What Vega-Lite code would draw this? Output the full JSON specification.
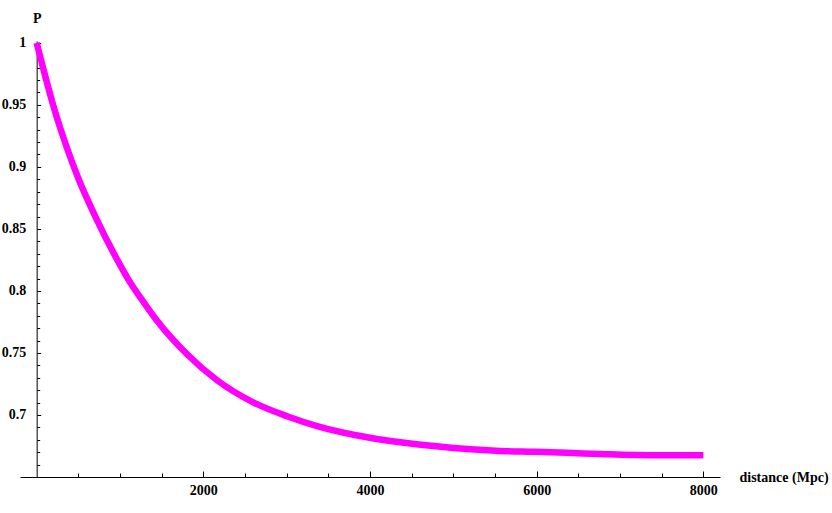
{
  "$schema": "https://vega.github.io/schema/vega-lite/v6.json",
  "autosize": {"type": "none"},
  "padding": {"left": 20, "top": 41, "right": 112, "bottom": 36},
  "width": 700,
  "height": 436,
  "background": "white",
  "config": {
    "view": {"stroke": null},
    "axis": {
      "grid": false,
      "domainColor": "black",
      "domainWidth": 1,
      "tickColor": "black",
      "tickWidth": 1,
      "labelFont": "Liberation Serif",
      "labelFontWeight": "bold",
      "labelFontSize": 14,
      "labelColor": "black",
      "titleFont": "Liberation Serif",
      "titleFontWeight": "bold",
      "titleFontSize": 14,
      "titleColor": "black"
    }
  },
  "data": {
    "values": [
      {"d": 0, "P": 1.0},
      {"d": 84, "P": 0.978},
      {"d": 197, "P": 0.95},
      {"d": 365, "P": 0.915},
      {"d": 504, "P": 0.890},
      {"d": 704, "P": 0.860},
      {"d": 984, "P": 0.823},
      {"d": 1085, "P": 0.811},
      {"d": 1304, "P": 0.789},
      {"d": 1445, "P": 0.776},
      {"d": 1805, "P": 0.749},
      {"d": 2165, "P": 0.728},
      {"d": 2604, "P": 0.710},
      {"d": 3005, "P": 0.699},
      {"d": 3365, "P": 0.691},
      {"d": 3965, "P": 0.682},
      {"d": 4364, "P": 0.678},
      {"d": 4764, "P": 0.675},
      {"d": 5165, "P": 0.6725},
      {"d": 5564, "P": 0.671},
      {"d": 5964, "P": 0.6703},
      {"d": 6364, "P": 0.6695},
      {"d": 6764, "P": 0.6685},
      {"d": 7364, "P": 0.6675},
      {"d": 8000, "P": 0.6675}
    ]
  },
  "mark": {"type": "line", "color": "#FF00FF", "strokeWidth": 6.5, "interpolate": "monotone", "clip": false},
  "encoding": {
    "x": {
      "field": "d",
      "type": "quantitative",
      "scale": {"domain": [-200, 8200], "nice": false, "zero": false},
      "axis": {
        "title": "distance (Mpc)",
        "titleX": 719,
        "titleY": 0,
        "titleAlign": "left",
        "titleBaseline": "middle",
        "titleAnchor": null,
        "values": [500, 1000, 1500, 2000, 2500, 3000, 3500, 4000, 4500, 5000, 5500, 6000, 6500, 7000, 7500, 8000],
        "format": "d",
        "labelExpr": "datum.value % 2000 == 0 ? datum.label : ''",
        "tickSize": {"condition": {"test": "datum.value % 2000 == 0", "value": -6}, "value": -4},
        "labelPadding": 12,
        "labelFlush": false,
        "labelOverlap": false
      }
    },
    "y": {
      "field": "P",
      "type": "quantitative",
      "scale": {"domain": [0.65, 1.0015], "nice": false, "zero": false},
      "axis": {
        "title": "P",
        "titleAngle": 0,
        "titleX": 0,
        "titleY": -23,
        "titleAlign": "center",
        "titleBaseline": "middle",
        "titleAnchor": null,
        "offset": -16.67,
        "values": [0.66, 0.67, 0.68, 0.69, 0.7, 0.71, 0.72, 0.73, 0.74, 0.75, 0.76, 0.77, 0.78, 0.79, 0.8, 0.81, 0.82, 0.83, 0.84, 0.85, 0.86, 0.87, 0.88, 0.89, 0.9, 0.91, 0.92, 0.93, 0.94, 0.95, 0.96, 0.97, 0.98, 0.99, 1.0],
        "labelExpr": "round(datum.value*100) % 5 == 0 ? toString(round(datum.value*100)/100) : ''",
        "tickSize": {"condition": {"test": "round(datum.value*100) % 5 == 0", "value": -4}, "value": -3},
        "labelPadding": 15,
        "labelFlush": false,
        "labelOverlap": false
      }
    }
  }
}
